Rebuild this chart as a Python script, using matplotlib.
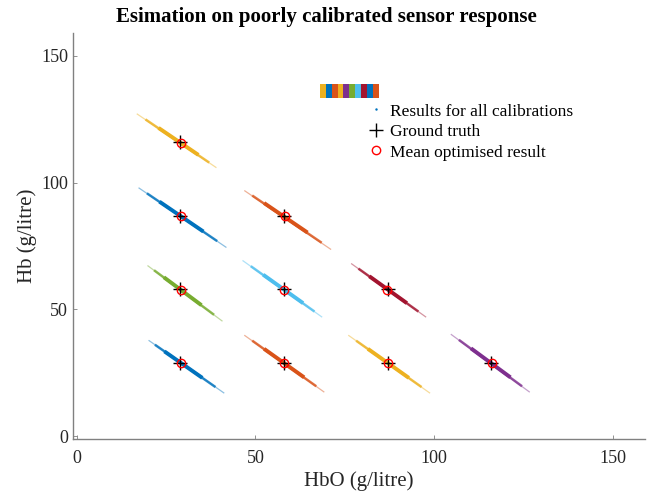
import matplotlib
matplotlib.use("Agg")
from matplotlib import pyplot as plt
from matplotlib.lines import Line2D
from matplotlib.patches import Rectangle
import numpy as np

plt.rcParams['font.family'] = ['Liberation Serif', 'DejaVu Serif']

# ground truth (HbO, Hb) for each simulated tissue
truth_hbo = [29, 29, 58, 29, 58, 87, 29, 58, 87, 116]
truth_hb = [116, 87, 87, 58, 58, 58, 29, 29, 29, 29]

# mean optimised result per tissue
mean_hbo = [29.2, 29.1, 58.2, 29.1, 57.9, 86.8, 29.2, 58.1, 87.1, 116.2]
mean_hb = [115.8, 86.8, 86.9, 57.8, 57.7, 57.6, 28.8, 28.9, 28.9, 28.8]

# extent of each cloud of results (upper-left end, lower-right end)
cloud_hbo_start = [16.8, 17.3, 46.9, 19.8, 46.4, 76.8, 20.1, 46.9, 76.0, 104.7]
cloud_hb_start = [127.2, 98.0, 96.9, 67.3, 69.3, 68.1, 37.8, 39.8, 39.8, 40.2]
cloud_hbo_end = [39.1, 41.9, 71.2, 40.8, 68.7, 97.8, 41.3, 69.3, 98.9, 126.8]
cloud_hb_end = [105.9, 74.4, 73.6, 45.3, 46.9, 46.9, 16.9, 17.3, 16.9, 17.3]

cloud_colors = ['#EDB120', '#0072BD', '#D95319', '#77AC30', '#4DBEEE',
                '#A2142F', '#0072BD', '#D95319', '#EDB120', '#7E2F8E']
strip_colors = ['#EDB120', '#0072BD', '#D95319', '#EDB120', '#7E2F8E',
                '#77AC30', '#4DBEEE', '#A2142F', '#0072BD', '#D95319']

fig = plt.figure(figsize=(6.5, 4.95), dpi=100)
ax = fig.add_axes([0.112, 0.113, 0.88, 0.82])

# clouds: thin full extent, thicker dense core around the centre
for i in range(len(truth_hbo)):
    cx, cy = truth_hbo[i], truth_hb[i]
    for frac, lw, a in [(1.0, 0.9, 0.45), (0.8, 1.8, 0.8), (0.5, 2.8, 1.0)]:
        xs = [cx + frac * (cloud_hbo_start[i] - cx), cx + frac * (cloud_hbo_end[i] - cx)]
        ys = [cy + frac * (cloud_hb_start[i] - cy), cy + frac * (cloud_hb_end[i] - cy)]
        ax.plot(xs, ys, color=cloud_colors[i], lw=lw, alpha=a,
                solid_capstyle='butt', zorder=2)

ax.plot(truth_hbo, truth_hb, '+', color='black', ms=10, mew=1.0, ls='none', zorder=3)
ax.plot(mean_hbo, mean_hb, 'o', mfc='none', mec='red', ms=6, mew=1.0, ls='none', zorder=4)

ax.set_xlim(-1.1, 159)
ax.set_ylim(-1.2, 159)
ax.set_xticks([0, 50, 100, 150])
ax.set_yticks([0, 50, 100, 150])
for s in ['top', 'right']:
    ax.spines[s].set_visible(False)
for s in ['left', 'bottom']:
    ax.spines[s].set_color('#808080')
    ax.spines[s].set_linewidth(1.0)
ax.tick_params(direction='in', length=3, width=0.6, colors='#808080',
               labelcolor='#262626', labelsize=13)
ax.tick_params(axis='x', pad=8)

ax.set_xlabel('HbO (g/litre)', fontsize=15, color='#262626', labelpad=3)
ax.set_ylabel('Hb (g/litre)', fontsize=15, color='#262626', labelpad=3)
fig.text(0.502, 0.966, 'Esimation on poorly calibrated sensor response', fontsize=15,
         fontweight='bold', color='black', ha='center', va='center')

# striped patch left over above the legend
sw = 0.0103
for k, c in enumerate(strip_colors):
    ax.add_patch(Rectangle((0.432 + k * sw, 0.84), sw, 0.034, transform=ax.transAxes,
                           facecolor=c, edgecolor='none', clip_on=False))

handles = [
    Line2D([], [], marker='.', ms=1.5, color='#0072BD', ls='none'),
    Line2D([], [], marker='+', ms=10, mew=1.0, color='black', ls='none'),
    Line2D([], [], marker='o', ms=6, mfc='none', mec='red', mew=1.0, ls='none'),
]
labels = ['Results for all calibrations', 'Ground truth', 'Mean optimised result']
ax.legend(handles, labels, loc='upper left', bbox_to_anchor=(0.493, 0.857), frameon=False,
          fontsize=12.5, handlelength=1.0, handletextpad=0.35, labelspacing=0.25,
          borderpad=0.2)

fig.savefig('out.png', dpi=100)
